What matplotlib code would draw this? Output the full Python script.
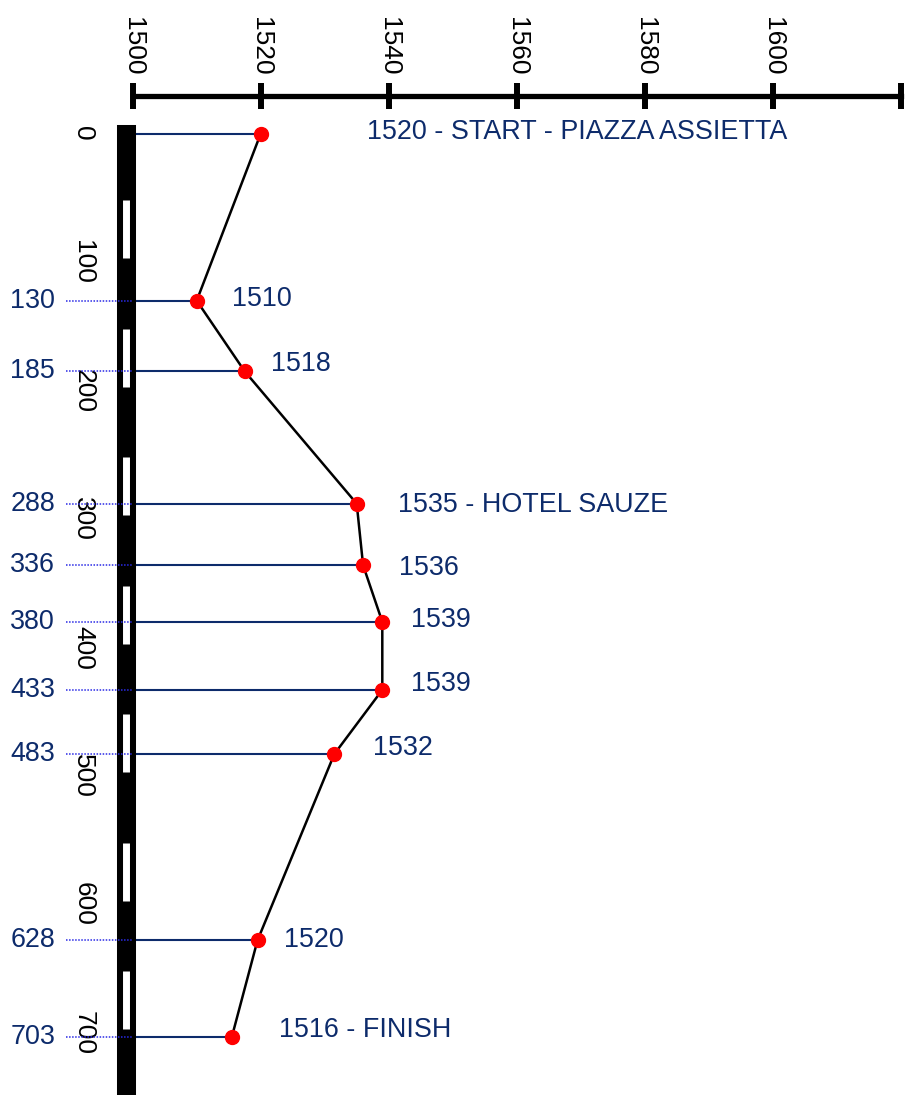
import numpy as np
import matplotlib.pyplot as plt

# distanza (m) e quota (m) dei punti del percorso
distanze = [0, 130, 185, 288, 336, 380, 433, 483, 628, 703]
quote = [1520, 1510, 1517.5, 1535, 1536, 1539, 1539, 1531.5, 1519.5, 1515.5]
etichette = ["1520 - START - PIAZZA ASSIETTA", "1510", "1518", "1535 - HOTEL SAUZE",
             "1536", "1539", "1539", "1532", "1520", "1516 - FINISH"]
tick_quote = [1500, 1520, 1540, 1560, 1580, 1600, 1620]
tick_dist = [0, 100, 200, 300, 400, 500, 600, 700]

# spostamento delle etichette in pixel (dx, dy)
offset_etichette = [(106, 2), (35, 2), (26, 7), (41, -1), (36, -3),
                    (29, 2), (29, 6), (39, 6), (26, 0), (47, 7)]

plt.rcParams['font.family'] = ['Liberation Sans', 'DejaVu Sans']
blu = '#0d2b6b'
fs = 19.4

fig = plt.figure(figsize=(9.1, 10.95), dpi=100)
ax = fig.add_axes([132.7 / 910, -0.0019, 768 / 910, 0.8798])
ax.set_xlim(1500, 1620)
ax.set_ylim(750, 0)

# asse superiore (quote)
ax.xaxis.set_ticks_position('top')
ax.set_xticks(tick_quote)
ax.set_xticklabels([str(t) if t < 1620 else '' for t in tick_quote])
ax.tick_params(axis='x', direction='inout', length=18.7, width=4.3, pad=5.5,
               labelsize=19, labelrotation=-90)
ax.spines['top'].set_position(('outward', 27))
ax.spines['top'].set_linewidth(3.8)
ax.spines['bottom'].set_visible(False)
ax.spines['right'].set_visible(False)

# asse sinistro come una strada nera
ax.spines['left'].set_position(('outward', 4.5))
ax.spines['left'].set_linewidth(13.7)
ax.set_yticks(tick_dist)
ax.set_yticklabels([str(t) for t in tick_dist], va='center')
ax.tick_params(axis='y', length=0, pad=22.5, labelsize=19, labelrotation=-90)

x_strada = -6.2 / 768
for k in tick_dist:
    ax.plot([x_strada, x_strada], [k + 52, k + 97], color='white', lw=5,
            solid_capstyle='butt', transform=ax.get_yaxis_transform(), clip_on=False, zorder=3)

# linee orizzontali
for d, q in zip(distanze, quote):
    ax.plot([1500, q], [d, d], color=blu, lw=1.5, zorder=2, clip_on=False)

# linee tratteggiate e etichette a sinistra
for d in distanze[1:]:
    ax.plot([-0.087, 0], [d, d], color='#2a2ae6', lw=1.1, ls=(0, (1, 1)),
            transform=ax.get_yaxis_transform(), clip_on=False, zorder=4)
    ax.text(-0.101, d, str(d), color=blu, fontsize=fs, ha='right', va='center',
            transform=ax.get_yaxis_transform())

# profilo
ax.plot(quote, distanze, color='black', lw=1.8, zorder=5, clip_on=False)
ax.plot(quote, distanze, 'o', color='red', ms=10, zorder=6, clip_on=False)

for q, d, lab, off in zip(quote, distanze, etichette, offset_etichette):
    ax.annotate(lab, (q, d), xytext=off, textcoords='offset pixels',
                color=blu, fontsize=fs, ha='left', va='center')

fig.savefig('out.png', dpi=100)
